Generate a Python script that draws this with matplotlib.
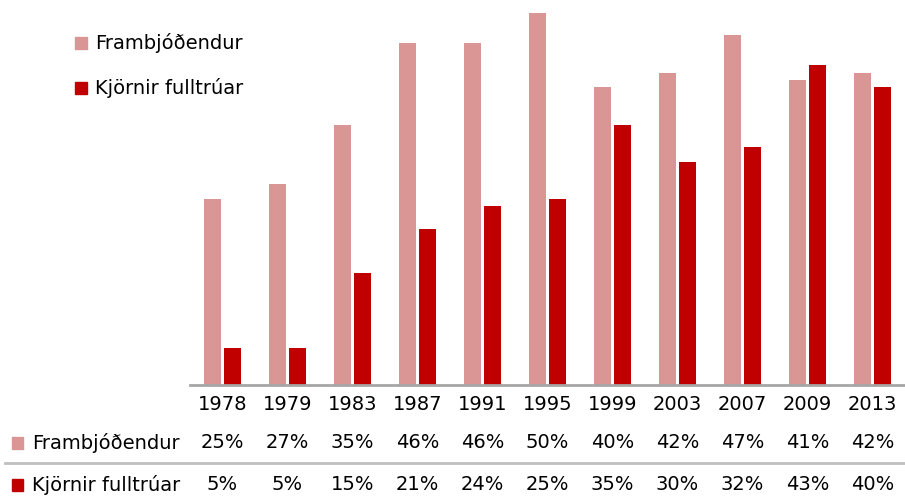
import matplotlib.pyplot as plt
import numpy as np
from matplotlib.patches import Rectangle
from matplotlib.lines import Line2D

years = ['1978', '1979', '1983', '1987', '1991', '1995', '1999', '2003', '2007', '2009', '2013']
frambjodendur = [25, 27, 35, 46, 46, 50, 40, 42, 47, 41, 42]
kjornir = [5, 5, 15, 21, 24, 25, 35, 30, 32, 43, 40]
series_names = ['Frambjóðendur', 'Kjörnir fulltrúar']

c_light = '#D99694'
c_dark = '#C00000'

plt.rcParams['font.family'] = ['Liberation Sans Narrow', 'DejaVu Sans']

W, H = 905, 497
fig = plt.figure(figsize=(W / 100, H / 100), dpi=100)

# axes placed in pixel units
x0, x1, ytop, ybase = 190, 905, 13, 385
ax = fig.add_axes([x0 / W, 1 - ybase / H, (x1 - x0) / W, (ybase - ytop) / H])

x = np.arange(len(years))
w = 0.26
ax.bar(x - 0.153, frambjodendur, w, color=c_light)
ax.bar(x + 0.153, kjornir, w, color=c_dark)

ax.set_xlim(-0.5, len(years) - 0.5)
ax.set_ylim(0, 50)
for s in ['top', 'right', 'left']:
    ax.spines[s].set_visible(False)
ax.spines['bottom'].set_color('#a6a6a6')
ax.spines['bottom'].set_linewidth(2)
ax.set_yticks([])
ax.set_xticks(x)
ax.set_xticklabels(years, fontsize=14)
ax.tick_params(axis='x', length=0, pad=7)

# data table rows
fs = 14
def fig_y(py):
    return 1 - py / H

trans = ax.get_xaxis_transform()
import matplotlib.transforms as mtrans
blend = mtrans.blended_transform_factory(ax.transData, fig.transFigure)
rows = [(frambjodendur, 443), (kjornir, 485)]
for (vals, py), name, col in zip(rows, series_names, [c_light, c_dark]):
    for xi, v in zip(x, vals):
        fig.text(xi, fig_y(py), f'{v}%', transform=blend, ha='center', va='center', fontsize=fs)
    fig.text(32 / W, fig_y(py), name, ha='left', va='center', fontsize=fs)
    fig.patches.append(Rectangle((12 / W, fig_y(py + 6)), 11 / W, 12 / H,
                                 transform=fig.transFigure, color=col, figure=fig))

fig.add_artist(Line2D([5 / W, 1], [fig_y(463), fig_y(463)], color='#bfbfbf', lw=2,
                      transform=fig.transFigure))

# legend at top left
for name, col, py in zip(series_names, [c_light, c_dark], [43, 88]):
    fig.patches.append(Rectangle((75 / W, fig_y(py + 6)), 12 / W, 12 / H,
                                 transform=fig.transFigure, color=col, figure=fig))
    fig.text(95 / W, fig_y(py), name, ha='left', va='center', fontsize=fs)

fig.savefig('out.png', dpi=100)
